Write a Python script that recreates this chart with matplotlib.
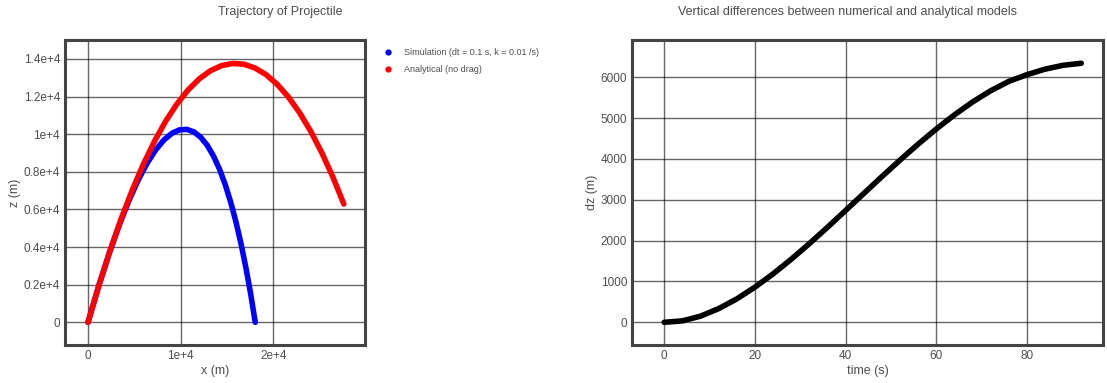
import matplotlib
matplotlib.use('Agg')
import matplotlib.pyplot as plt
from matplotlib.lines import Line2D
from matplotlib.ticker import FuncFormatter

plt.rcParams['font.family'] = ['Liberation Sans', 'DejaVu Sans']

time_s = [0, 4, 8, 12, 16, 20, 24, 28, 32, 36, 40, 44, 48, 52, 56, 60,
          64, 68, 72, 76, 80, 84, 88, 92]

# simulation with drag
sim_x = [0, 1176, 2307, 3392, 4436, 5438, 6401, 7326, 8216, 9070, 9890, 10679,
         11437, 12164, 12864, 13536, 14181, 14801, 15397, 15970, 16520, 17049,
         17557, 18044]
sim_z = [0, 1960, 3689, 5197, 6491, 7581, 8475, 9179, 9702, 10051, 10232, 10252,
         10117, 9834, 9408, 8845, 8151, 7329, 6386, 5326, 4154, 2873, 1490, 5]

# analytical, no drag
ana_x = [0, 1200, 2400, 3600, 4800, 6000, 7200, 8400, 9600, 10800, 12000, 13200,
         14400, 15600, 16800, 18000, 19200, 20400, 21600, 22800, 24000, 25200,
         26400, 27600]
ana_z = [0, 2000, 3843, 5529, 7058, 8430, 9645, 10703, 11605, 12349, 12936, 13366,
         13640, 13756, 13716, 13518, 13164, 12652, 11984, 11158, 10176, 9037,
         7741, 6287]

# vertical difference analytical - numerical
dz = [0, 35, 150, 334, 572, 860, 1184, 1542, 1925, 2325, 2737, 3152, 3566, 3971,
      4362, 4733, 5079, 5395, 5670, 5900, 6065, 6200, 6295, 6345]

TEXT = '#4d4d4d'
FRAME = '#444444'

fig = plt.figure(figsize=(11.07, 3.83), dpi=100)
ax1 = fig.add_axes([0.0587, 0.0992, 0.271, 0.7963])
ax2 = fig.add_axes([0.5709, 0.0992, 0.4255, 0.7963])

for ax in (ax1, ax2):
    ax.grid(True, color='k', alpha=0.6, linewidth=1.0)
    ax.set_axisbelow(True)
    ax.tick_params(length=0, labelsize=8.5, labelcolor=TEXT, pad=3.5)
    for sp in ax.spines.values():
        sp.set_color(FRAME)
        sp.set_linewidth(2.2)

# --- left: trajectories ---
ax1.plot(sim_x, sim_z, color='#0000ff', lw=4, solid_capstyle='round',
         solid_joinstyle='round')
ax1.plot(ana_x, ana_z, color='#ff0000', lw=4, solid_capstyle='round',
         solid_joinstyle='round')
ax1.set_xlim(-2480, 29880)
ax1.set_ylim(-1200, 15000)
ax1.set_xticks([0, 10000, 20000])
ax1.set_yticks(range(0, 14001, 2000))
sci = FuncFormatter(lambda v, p: '0' if v == 0 else f'{v / 1e4:g}e+4')
ax1.xaxis.set_major_formatter(sci)
ax1.yaxis.set_major_formatter(sci)
ax1.set_xlabel('x (m)', fontsize=9, color=TEXT, labelpad=2)
ax1.set_ylabel('z (m)', fontsize=9, color=TEXT, labelpad=2)

handles = [Line2D([], [], marker='o', ls='', color='#0000ff', ms=3.5),
           Line2D([], [], marker='o', ls='', color='#ff0000', ms=3.5)]
leg = ax1.legend(handles, ['Simulation (dt = 0.1 s, k = 0.01 /s)', 'Analytical (no drag)'],
                 loc='upper left', bbox_to_anchor=(1.02, 1.0), frameon=False,
                 fontsize=6.5, handletextpad=0.8, labelspacing=0.9)
for t in leg.get_texts():
    t.set_color(TEXT)

# --- right: vertical difference ---
ax2.plot(time_s, dz, color='k', lw=4, solid_capstyle='round',
         solid_joinstyle='round')
ax2.set_xlim(-7.1, 96.8)
ax2.set_ylim(-556, 6914)
ax2.set_xticks(range(0, 81, 20))
ax2.set_yticks(range(0, 6001, 1000))
ax2.set_xlabel('time (s)', fontsize=9, color=TEXT, labelpad=2)
ax2.set_ylabel('dz (m)', fontsize=9, color=TEXT, labelpad=2)

fig.text(0.253, 0.968, 'Trajectory of Projectile', ha='center', va='center',
         fontsize=9, color=TEXT)
fig.text(0.766, 0.968, 'Vertical differences between numerical and analytical models',
         ha='center', va='center', fontsize=9, color=TEXT)

fig.savefig('out.png', dpi=100)
